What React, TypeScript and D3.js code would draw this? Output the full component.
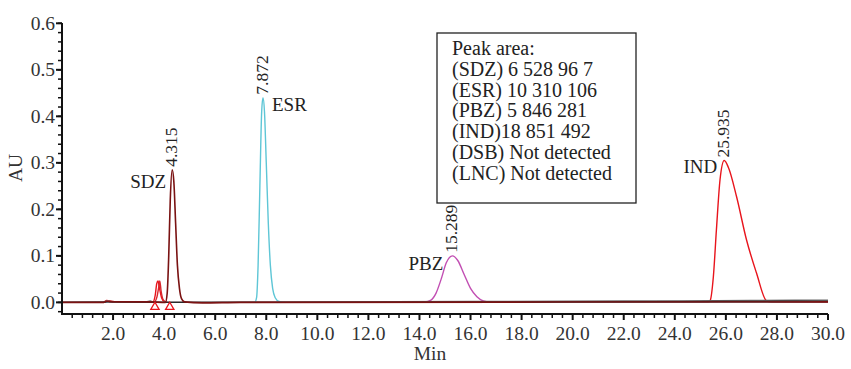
import React from 'react'
import * as d3 from 'd3'

// chromatogram traces, [min, AU]
const baselineGray: [number, number][] = [
  [0, 0.0], [1.6, 0.0005], [1.75, 0.003], [1.9, 0.002], [2.2, 0.001], [3.3, 0.001], [3.45, 0.003],
  [3.6, 0.0], [6.0, 0.0], [10.0, 0.001], [16.0, 0.002], [22.0, 0.003], [27.0, 0.004], [30.0, 0.005],
]
const baselineBlack: [number, number][] = [
  [0, 0.0], [1.7, 0.0005], [1.85, 0.002], [2.0, 0.0008], [5.0, 0.0], [12.0, 0.0], [20.0, 0.001],
  [26.0, 0.002], [30.0, 0.003],
]
const sdzTrace: [number, number][] = [
  [0, 0.0], [1.6, 0.0], [1.75, 0.002], [1.9, 0.001], [3.4, 0.001], [4.05, 0.0], [4.12, 0.02],
  [4.18, 0.1], [4.24, 0.22], [4.315, 0.285], [4.38, 0.26], [4.45, 0.17], [4.52, 0.08], [4.6, 0.03],
  [4.68, 0.008], [4.8, 0.001], [5.5, -0.001], [7.0, 0.0], [30.0, 0.001],
]
const esrTrace: [number, number][] = [
  [0, 0.0], [7.55, 0.0], [7.62, 0.01], [7.68, 0.08], [7.75, 0.25], [7.82, 0.41], [7.872, 0.44],
  [7.93, 0.41], [8.0, 0.3], [8.08, 0.17], [8.16, 0.08], [8.25, 0.03], [8.35, 0.01], [8.5, 0.002],
  [8.8, 0.0], [30.0, 0.001],
]
const pbzTrace: [number, number][] = [
  [13.5, 0.0], [14.2, 0.001], [14.45, 0.005], [14.65, 0.02], [14.85, 0.05], [15.05, 0.085],
  [15.289, 0.1], [15.5, 0.09], [15.75, 0.06], [16.0, 0.03], [16.25, 0.012], [16.5, 0.003], [16.8, 0.0],
]
const indTrace: [number, number][] = [
  [0, 0.0], [1.6, 0.0], [1.75, 0.004], [1.9, 0.003], [2.1, 0.001], [3.55, 0.0], [3.65, 0.015],
  [3.71, 0.04], [3.76, 0.046], [3.82, 0.03], [3.9, 0.01], [4.0, 0.002], [4.2, 0.0], [25.3, 0.0],
  [25.38, 0.003], [25.51, 0.055], [25.63, 0.156], [25.77, 0.263], [25.935, 0.305], [26.1, 0.29],
  [26.42, 0.227], [26.81, 0.134], [27.2, 0.063], [27.58, 0.004], [27.8, 0.0], [30.0, 0.0],
]
const smallPeak: [number, number][] = [
  [3.62, 0.0], [3.72, 0.012], [3.78, 0.03], [3.83, 0.046], [3.88, 0.025], [3.96, 0.006], [4.08, 0.0],
]
const baselineMarks = [3.64, 4.22]

const peakNames = ['SDZ', 'ESR', 'PBZ', 'IND']
const peakTimes = [4.315, 7.872, 15.289, 25.935]
const peakHeights = [0.285, 0.44, 0.1, 0.305]

const xTicks = [2, 4, 6, 8, 10, 12, 14, 16, 18, 20, 22, 24, 26, 28, 30]
const yTicks = [0, 0.1, 0.2, 0.3, 0.4, 0.5, 0.6]

const legendLines = [
  'Peak area:',
  '(SDZ) 6 528 96 7',
  '(ESR) 10 310 106',
  '(PBZ) 5 846 281',
  '(IND)18 851 492',
  '(DSB) Not detected',
  '(LNC) Not detected',
]

const W = 851
const H = 369
const FONT = '"Liberation Serif", "Times New Roman", serif'

// label placement next to each peak: [dx, dy, anchor]
const nameOffsets: [number, number, string][] = [
  [-6, 18, 'end'],
  [9, 13, 'start'],
  [-9, 14, 'end'],
  [-7, 12, 'end'],
]

export default function App() {
  const x = d3.scaleLinear().domain([0, 30]).range([62, 828])
  const y = d3.scaleLinear().domain([-0.025, 0.6]).range([314, 23.3])

  const line = d3.line<[number, number]>()
    .x(d => x(d[0]))
    .y(d => y(d[1]))
    .curve(d3.curveMonotoneX)

  const xMinor = d3.range(0, 30.001, 0.4).filter(v => Math.abs(v / 2 - Math.round(v / 2)) > 0.01)
  const yMinor = d3.range(-0.02, 0.6001, 0.02)

  // drawing order: red underneath, dark baselines on top (as in the original)
  const traces: { data: [number, number][]; color: string; w: number }[] = [
    { data: indTrace, color: '#e8141c', w: 1.4 },
    { data: smallPeak, color: '#d9262c', w: 1.4 },
    { data: pbzTrace, color: '#c24fb3', w: 1.4 },
    { data: esrTrace, color: '#5ec6d6', w: 1.4 },
    { data: baselineGray, color: '#6b6b6b', w: 1.3 },
    { data: baselineBlack, color: '#2a2a2a', w: 1.2 },
    { data: sdzTrace, color: '#7a1212', w: 1.6 },
  ]

  const tri = d3.symbol().type(d3.symbolTriangle).size(30)

  return (
    <svg width={W} height={H} style={{ position: 'absolute', left: 0, top: 0 }} fontFamily={FONT}>
      <rect width={W} height={H} fill="#fff" />

      {traces.map((t, i) => (
        <path key={i} d={line(t.data) || ''} fill="none" stroke={t.color} strokeWidth={t.w} />
      ))}

      {baselineMarks.map((m, i) => (
        <path key={i} d={tri() || ''} transform={`translate(${x(m)},${y(-0.01)})`}
          fill="none" stroke="#e8141c" strokeWidth={1.3} />
      ))}

      {/* peak retention times */}
      {peakTimes.map((t, i) => (
        <text key={i} transform={`translate(${x(t) + 5},${y(peakHeights[i]) - 3}) rotate(-90)`}
          fontSize={17.5} fill="#222">{t.toFixed(3)}</text>
      ))}
      {peakNames.map((n, i) => (
        <text key={n} x={x(peakTimes[i]) + nameOffsets[i][0]} y={y(peakHeights[i]) + nameOffsets[i][1]}
          textAnchor={nameOffsets[i][2]} fontSize={19} fill="#222">{n}</text>
      ))}

      {/* legend box */}
      <rect x={437} y={33} width={199} height={170} fill="#fff" stroke="#222" strokeWidth={1.3} />
      {legendLines.map((l, i) => (
        <text key={i} x={452} y={55 + i * 20.8} fontSize={20} fill="#222">{l}</text>
      ))}

      {/* axes */}
      <line x1={62} x2={828} y1={314} y2={314} stroke="#111" strokeWidth={2} />
      <line x1={62} x2={62} y1={23} y2={315} stroke="#111" strokeWidth={2} />
      {xMinor.map((v, i) => (
        <line key={i} x1={x(v)} x2={x(v)} y1={314} y2={318} stroke="#111" strokeWidth={1.5} />
      ))}
      {xTicks.map(v => (
        <g key={v}>
          <line x1={x(v)} x2={x(v)} y1={314} y2={320} stroke="#111" strokeWidth={2} />
          <text x={x(v)} y={340} textAnchor="middle" fontSize={19.5} fill="#333">{v.toFixed(1)}</text>
        </g>
      ))}
      {yMinor.map((v, i) => (
        <line key={i} x1={58} x2={62} y1={y(v)} y2={y(v)} stroke="#111" strokeWidth={1.5} />
      ))}
      {yTicks.map(v => (
        <g key={v}>
          <line x1={56} x2={62} y1={y(v)} y2={y(v)} stroke="#111" strokeWidth={2} />
          <text x={55} y={y(v) + 6.5} textAnchor="end" fontSize={19.5} fill="#333">{v.toFixed(1)}</text>
        </g>
      ))}
      <text x={430} y={360} textAnchor="middle" fontSize={19.5} fill="#333">Min</text>
      <text transform="translate(22,168) rotate(-90)" textAnchor="middle" fontSize={19.5} fill="#333">AU</text>
    </svg>
  )
}
